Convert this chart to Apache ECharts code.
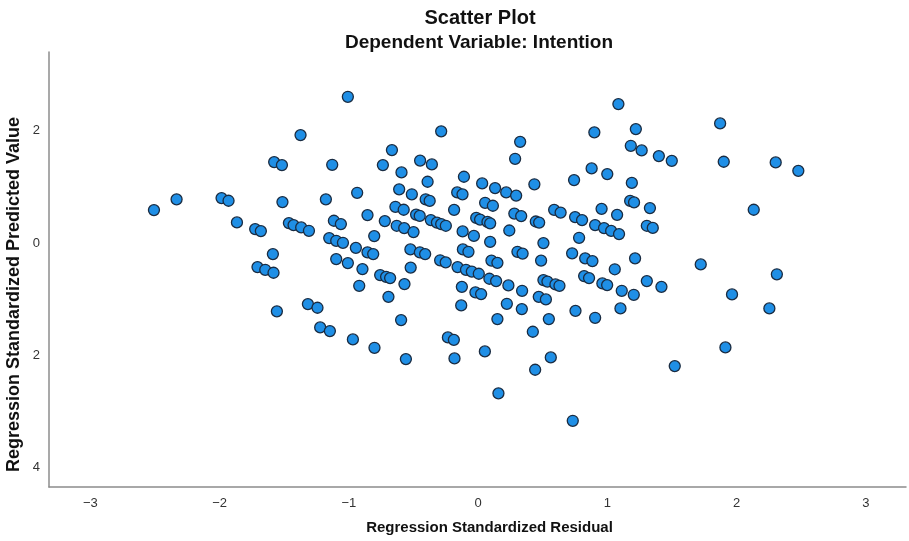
<!DOCTYPE html>
<html>
<head>
<meta charset="utf-8">
<script src="https://cdn.jsdelivr.net/npm/echarts@6/dist/echarts.min.js"></script>
<style>
html,body{margin:0;padding:0;background:#fff;}
#chart{width:909px;height:541px;}
</style>
</head>
<body>
<div id="chart"></div>
<script>
const titleText = 'Scatter Plot';
const subtitleText = 'Dependent Variable: Intention';
const xAxisName = 'Regression Standardized Residual';
const yAxisName = 'Regression Standardized Predicted Value';

const xTickValues = [-3, -2, -1, 0, 1, 2, 3];
const xTickLabels = ['\u22123', '\u22122', '\u22121', '0', '1', '2', '3'];
const yTickValues = [-4, -2, 0, 2];
const yTickLabels = ['4', '2', '0', '2'];

const residuals = [
-2.508,-2.333,-1.985,-1.931,-1.866,-1.725,-1.681,-1.588,-1.707,-1.647,
-1.583,-1.578,-1.518,-1.514,-1.464,-1.428,-1.369,-1.309,-1.374,-1.557,
-1.317,-1.243,-1.222,-1.147,-0.969,-0.802,-1.008,-1.129,-1.178,-1.116,
-1.062,-1.152,-1.098,-1.046,-0.946,-0.856,-0.812,-1.098,-1.008,-0.895,
-0.920,-0.936,-0.856,-0.804,-0.737,-0.667,-0.593,-0.611,-0.640,-0.576,
-0.722,-0.630,-0.572,-0.500,-0.758,-0.712,-0.681,-0.570,-0.694,-0.596,
-0.559,-0.524,-0.451,-0.410,-0.522,-0.513,-0.449,-0.358,-0.391,-0.406,
-0.375,-0.286,-0.480,-0.452,-0.366,-0.319,-0.286,-0.250,-0.294,-0.251,
-0.234,-0.188,-0.183,-0.186,-0.162,-0.121,-0.110,-0.120,-0.033,-0.118,
-0.075,-0.159,-0.094,-0.049,0.005,-0.126,-0.131,-0.021,0.023,0.052,
0.031,0.131,0.217,0.294,0.286,0.325,0.435,0.054,0.114,-0.015,
0.015,0.072,0.093,0.280,0.333,0.241,0.093,0.446,0.472,0.588,
0.638,0.505,0.304,0.344,0.103,0.149,0.487,0.087,0.139,0.234,
0.340,0.222,0.338,0.149,0.469,0.524,0.505,0.536,0.598,0.629,
0.423,0.547,0.562,0.441,0.157,0.732,0.753,0.820,0.858,0.905,
0.961,0.998,1.057,1.111,1.101,1.204,1.305,1.418,0.727,0.828,
0.884,1.214,0.781,0.750,0.804,0.905,0.974,1.029,1.090,0.955,
1.075,0.742,0.878,0.999,1.189,1.176,1.206,1.329,1.305,1.351,
1.085,0.899,1.220,1.181,1.265,1.398,1.498,1.872,1.900,2.302,
2.477,2.132,1.722,2.311,1.964,2.253,1.913,1.521
];

const predicted = [
0.587,0.778,0.801,0.753,0.368,0.249,0.214,-0.196,-0.427,-0.475,
-0.528,1.441,1.388,0.730,0.356,0.320,0.279,0.219,1.922,-1.215,
-1.085,-1.151,-1.500,-1.566,-1.714,-1.863,2.603,1.393,0.778,0.397,
0.338,0.089,0.041,0.005,-0.084,-0.165,-0.196,-0.285,-0.356,-0.463,
-0.760,0.895,0.498,0.125,1.388,1.655,1.258,0.956,0.646,0.593,
0.391,0.308,0.267,0.196,-0.569,-0.600,-0.623,-0.730,-0.956,-1.370,
-2.064,-0.112,-0.165,-0.196,-0.436,0.868,1.468,1.400,1.091,0.779,
0.751,1.988,0.507,0.484,0.409,0.365,0.338,0.308,-0.306,-0.343,
-1.678,-1.721,-2.052,0.591,0.902,0.867,1.180,0.208,0.128,-0.112,
-0.155,-0.427,-0.475,-0.507,-0.546,-0.778,-1.109,-0.877,-0.907,-1.927,
1.062,0.979,0.902,0.845,1.500,1.802,1.046,0.717,0.664,0.448,
0.418,0.377,0.351,0.525,0.480,0.224,0.021,0.384,0.365,0.591,
0.543,0.000,-0.155,-0.187,-0.311,-0.352,-0.311,-0.635,-0.676,-0.753,
-0.849,-1.080,-1.174,-1.352,-0.956,-1.002,-0.658,-0.685,-0.735,-0.760,
-1.578,-1.352,-2.034,-2.254,-2.674,-3.162,-1.205,-0.587,-0.623,-1.329,
-0.717,-0.747,-0.466,-0.849,-1.162,-0.920,-0.676,-0.778,-0.183,-0.272,
-0.320,-0.272,0.094,0.463,0.409,0.320,0.267,0.217,0.160,0.609,
0.502,1.121,1.329,1.228,1.071,0.751,0.724,0.623,0.308,0.270,
2.473,1.970,2.028,1.731,1.649,1.548,1.463,2.130,1.447,1.436,
1.286,0.593,-0.379,-0.555,-0.913,-1.162,-1.856,-2.189
];

const points = residuals.map((r, i) => [r, predicted[i]]);

const FONT = '"Liberation Sans", Arial, sans-serif';
const chart = echarts.init(document.getElementById('chart'), null, {renderer: 'canvas'});

chart.setOption({
  backgroundColor: '#ffffff',
  animation: false,
  title: [
    {
      text: titleText,
      left: 475, top: 3, textAlign: 'center',
      textStyle: {fontFamily: FONT, fontSize: 20, fontWeight: 'bold', color: '#111'}
    },
    {
      text: subtitleText,
      left: 474, top: 28, textAlign: 'center',
      textStyle: {fontFamily: FONT, fontSize: 19, fontWeight: 'bold', color: '#111'}
    }
  ],
  grid: {left: 49, right: 3, top: 52, bottom: 54, containLabel: false, outerBoundsMode: 'none'},
  xAxis: {
    type: 'value',
    min: -3.32, max: 3.31,
    name: xAxisName,
    nameLocation: 'middle',
    nameGap: 33,
    nameMoveOverlap: false,
    nameTextStyle: {fontFamily: FONT, fontSize: 15, fontWeight: 'bold', color: '#111', padding: [0, 0, 0, 24]},
    axisLine: {show: true, onZero: false, lineStyle: {color: '#8c8c8c', width: 1.5}},
    axisTick: {show: false},
    splitLine: {show: false},
    axisLabel: {
      customValues: xTickValues,
      margin: 10,
      fontFamily: FONT, fontSize: 13, color: '#333',
      formatter: v => { const i = xTickValues.indexOf(Math.round(v)); return i >= 0 ? xTickLabels[i] : ''; }
    }
  },
  yAxis: {
    type: 'value',
    min: -4.34, max: 3.40,
    name: yAxisName,
    nameLocation: 'middle',
    nameGap: 26,
    nameMoveOverlap: false,
    nameTextStyle: {fontFamily: FONT, fontSize: 18, fontWeight: 'bold', color: '#111', padding: [0, 50, 0, 0]},
    axisLine: {show: true, onZero: false, lineStyle: {color: '#8c8c8c', width: 1.5}},
    axisTick: {show: false},
    splitLine: {show: false},
    axisLabel: {
      customValues: yTickValues,
      margin: 9,
      fontFamily: FONT, fontSize: 13, color: '#333',
      formatter: v => { const i = yTickValues.indexOf(Math.round(v)); return i >= 0 ? yTickLabels[i] : ''; }
    }
  },
  series: [{
    type: 'scatter',
    data: points,
    symbol: 'circle',
    symbolSize: 11,
    itemStyle: {color: '#1f8fe6', borderColor: '#1a2c42', borderWidth: 1.3, opacity: 1}
  }]
});
</script>
</body>
</html>
